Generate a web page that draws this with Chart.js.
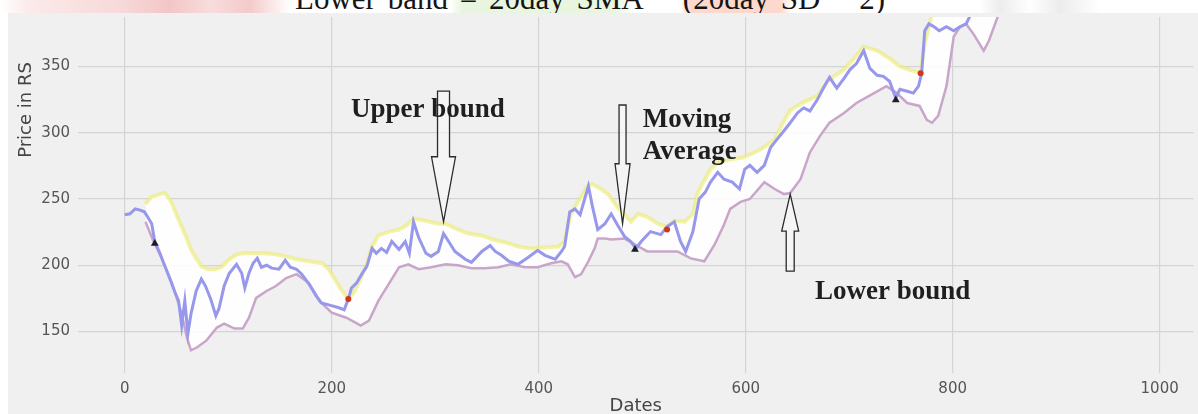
<!DOCTYPE html>
<html>
<head>
<meta charset="utf-8">
<title>Bollinger bands</title>
<script src="https://cdn.jsdelivr.net/npm/chart.js@4.4.0/dist/chart.umd.min.js"></script>
<style>
  html, body { margin: 0; padding: 0; background: #fff; }
  #wrap { position: relative; width: 1198px; height: 414px; overflow: hidden; }
  #bollinger { position: absolute; left: 0; top: 0; }
  /* cropped formula line of the scanned page */
  #eqStrip {
    position: absolute; left: 0; top: 0; width: 1198px; height: 13px; overflow: hidden;
    background: linear-gradient(to right, #fff 0px, #fbeaea 30px, #f7d9d9 120px, #f3c6c6 170px, #f8dcdc 210px,
      #f4caca 250px, #fff 290px, #fff 450px, #e8f5df 462px, #e8f5df 615px, #fff 635px, #fff 680px,
      #fcd9cc 690px, #fcd9cc 780px, #fff 792px, #fff 980px, #ececec 1000px, #fff 1030px, #ececec 1060px, #fff 1100px);
  }
  #eqStrip span {
    position: absolute; left: 295px; top: -17px; font: 31px "Liberation Serif", serif;
    line-height: 31px; word-spacing: 4px; white-space: nowrap; color: #151515;
  }
</style>
</head>
<body>
<div id="wrap">
  <canvas id="bollinger" width="1198" height="414"></canvas>
  <div id="eqStrip"><span>Lower band = 20day SMA − (20day SD * 2)</span></div>
</div>
<script>
// closing price, sampled along the dates axis
const priceDays = [0,5,10,14,19,22,26,29,34,38,43,48,52,55,58,61,64,69,74,78,83,88,91,96,101,108,113,116,120,124,
  128,132,137,142,149,155,160,166,171,178,185,190,197,207,212,216,219,224,229,234,239,243,248,253,258,265,271,275,279,284,
  291,296,303,308,313,319,324,329,335,345,353,358,364,371,380,390,399,406,416,422,425,430,435,440,448,452,457,464,470,476,
  483,489,494,499,508,518,524,531,537,542,549,555,561,566,573,579,587,594,599,604,611,618,624,630,637,643,650,656,662,669,
  676,681,688,695,701,707,714,720,727,733,739,745,749,756,762,767,770,773,777,782,787,794,801,807,813,820,833];
const priceValues = [238.1,238.8,242.5,241.8,240.3,236.6,231.3,217.9,209.0,200.7,191.0,180.6,173.1,154.5,173.1,148.5,163.4,180.6,189.6,184.3,
  174.6,161.9,167.2,184.3,194.0,200.7,194.0,182.8,194.0,201.5,205.2,198.5,200.0,197.8,197.0,203.7,198.5,197.0,193.3,185.8,
  176.9,171.6,170.1,167.9,166.4,174.6,182.8,186.6,193.3,199.3,212.7,209.0,212.7,209.7,217.9,211.9,217.9,209.0,232.8,220.9,
  209.0,206.7,210.4,223.9,217.9,210.4,207.5,204.5,202.2,210.4,214.9,210.4,207.5,203.0,200.7,206.0,211.2,207.5,204.5,210.4,
  214.2,240.3,242.5,238.1,259.7,244.0,226.9,231.3,238.8,230.6,221.6,217.9,212.7,217.9,225.4,223.1,229.1,232.8,217.9,210.4,
  225.4,250.0,255.2,262.7,270.1,264.9,262.7,257.5,272.4,275.4,270.1,275.4,288.8,294.8,301.5,307.5,314.9,318.7,316.4,324.6,
  335.1,341.8,333.6,341.0,347.8,352.2,361.9,348.5,343.3,342.5,338.8,326.1,332.8,331.3,329.9,335.1,344.8,376.9,382.1,379.9,
  376.9,379.9,376.9,379.9,382.1,393.3,404.5];

// upper band = 20day SMA + 2 SD
const upperDays = [20,26,34,39,45,50,55,60,64,69,74,80,87,93,101,108,115,123,135,146,156,166,178,191,197,204,210,216,221,228,
  234,239,245,255,265,272,279,291,303,310,320,332,345,356,368,380,393,404,419,425,430,435,442,448,452,459,467,476,483,489,
  496,505,515,524,531,541,549,553,560,566,573,585,597,604,614,628,635,643,656,669,681,695,703,714,727,739,749,760,769,773,
  780,789,800,860];
const upperValues = [246.3,251.5,253.7,254.5,247.8,238.1,229.1,220.1,211.9,205.2,199.3,197.0,197.0,198.5,204.5,208.2,209.0,209.0,209.0,208.2,
  206.7,204.5,203.0,201.5,197.0,188.1,180.6,174.6,179.1,189.6,201.5,214.2,222.4,225.4,226.9,229.9,235.1,233.6,231.3,231.3,
  227.6,223.9,222.4,219.4,217.2,214.2,212.7,213.4,214.2,217.9,236.6,244.0,253.0,260.4,261.2,258.2,253.7,244.0,238.1,232.8,
  238.8,236.6,231.3,229.1,233.6,232.8,238.8,253.7,264.2,272.4,277.6,279.9,281.3,283.6,287.3,294.8,306.0,317.2,323.1,327.6,
  340.3,347.8,354.5,364.9,361.9,356.0,350.0,347.0,345.5,367.2,389.6,412.0,440.0,470.0];

// lower band = 20day SMA - 2 SD
const lowerDays = [20,27,37,46,55,60,64,70,79,89,96,106,114,120,127,137,146,156,166,178,188,200,214,223,228,236,245,255,265,274,
  284,296,310,322,335,348,361,373,387,399,412,422,428,435,441,448,454,457,464,470,483,496,505,515,534,547,560,570,579,585,
  595,604,618,628,637,643,653,662,672,681,695,707,724,736,746,756,768,775,780,786,794,801,807,813,820,830,835,842,850];
const lowerValues = [232.8,219.4,203.0,185.8,163.4,145.5,135.8,138.1,143.3,153.0,156.0,152.2,152.2,160.4,175.4,180.6,184.3,190.3,193.3,186.6,
  173.1,164.2,160.4,156.7,154.5,158.2,173.1,185.8,198.5,200.7,197.0,198.5,200.7,200.0,197.8,197.8,198.5,200.7,198.5,198.5,
  201.5,203.0,200.7,191.0,193.3,203.0,212.7,220.1,220.1,219.4,220.1,214.2,210.4,210.4,210.4,205.2,203.0,215.7,230.6,242.5,
  247.8,250.0,262.7,257.5,253.7,254.5,264.9,285.1,297.8,307.5,314.9,322.4,329.9,335.1,329.9,322.4,320.2,309.7,307.5,312.7,
  335.1,372.4,379.9,382.1,374.6,361.9,369.4,384.3,400.7];

// crossing signals
const buyDays = [29, 493, 745];
const buyValues = [216.4, 211.9, 324.6];
const sellDays = [216, 524, 769];
const sellValues = [174.6, 226.9, 344.8];

const xTicks = [0, 200, 400, 600, 800, 1000];
const yTicks = [150, 200, 250, 300, 350];

// callouts pasted on the figure (anchored in data units)
const arrowDays = [308, 481, 643];
const arrowTipValues = [232.8, 231.3, 253.7];
const arrowTailValues = [331.3, 320.9, 195.5];
const noteTexts = ['Upper bound', 'Moving', 'Average', 'Lower bound'];
const noteDays = [218.5, 500.5, 500.5, 667];
const noteValues = [311.9, 304.5, 279.9, 174.6];

const toPoints = (xs, ys) => xs.map((x, i) => ({ x: x, y: ys[i] }));

const backdrop = {
    id: 'backdrop',
    beforeDraw(chart) {
        const ctx = chart.ctx;
        ctx.save();
        ctx.fillStyle = '#ffffff';
        ctx.fillRect(0, 0, chart.width, chart.height);
        ctx.fillStyle = '#f0f0f0';
        ctx.fillRect(8, 13, chart.width - 8, chart.height - 13);
        ctx.restore();
    }
};

// hollow block arrows, same look as in the paper
const arrowSizes = [[6, 12, 65], [3.5, 7.5, 60], [4, 8.5, 37]]; // shaft half width, head half width, head length (px)

function drawArrow(ctx, x, yTip, yTail, size) {
    const [sh, hh, hl] = size;
    const dir = yTail > yTip ? 1 : -1;
    const yBase = yTip + dir * hl;
    ctx.beginPath();
    ctx.moveTo(x, yTip);
    ctx.lineTo(x + hh, yBase);
    ctx.lineTo(x + sh, yBase);
    ctx.lineTo(x + sh, yTail);
    ctx.lineTo(x - sh, yTail);
    ctx.lineTo(x - sh, yBase);
    ctx.lineTo(x - hh, yBase);
    ctx.closePath();
    ctx.fill();
    ctx.stroke();
}

const callouts = {
    id: 'callouts',
    afterDraw(chart) {
        const ctx = chart.ctx;
        const xs = chart.scales.x, ys = chart.scales.y;
        ctx.save();
        ctx.fillStyle = 'rgba(250,250,250,0.55)';
        ctx.strokeStyle = '#2b2b2b';
        ctx.lineWidth = 1.3;
        arrowDays.forEach((d, i) => {
            drawArrow(ctx, xs.getPixelForValue(d), ys.getPixelForValue(arrowTipValues[i]),
                ys.getPixelForValue(arrowTailValues[i]), arrowSizes[i]);
        });
        ctx.fillStyle = '#1f1f1f';
        ctx.font = 'bold 27px "Liberation Serif", serif';
        ctx.textBaseline = 'alphabetic';
        ctx.textAlign = 'left';
        noteTexts.forEach((t, i) => {
            ctx.fillText(t, xs.getPixelForValue(noteDays[i]), ys.getPixelForValue(noteValues[i]));
        });

        // axis titles (figure is cropped, so they sit off-centre)
        ctx.fillStyle = '#444';
        ctx.font = '18px "DejaVu Sans"';
        ctx.textAlign = 'center';
        ctx.textBaseline = 'middle';
        ctx.fillText('Dates', (chart.chartArea.left + chart.chartArea.right) / 2, 406);
        ctx.translate(26, 110);
        ctx.rotate(-Math.PI / 2);
        ctx.fillText('Price in RS', 0, 0);
        ctx.restore();
    }
};

const tickFont = { family: 'DejaVu Sans', size: 15 };

new Chart(document.getElementById('bollinger'), {
    type: 'line',
    data: {
        datasets: [
            {
                label: 'Sell',
                data: toPoints(sellDays, sellValues),
                showLine: false,
                pointStyle: 'circle',
                pointRadius: 3,
                pointBorderWidth: 0,
                pointBackgroundColor: '#d0381c'
            },
            {
                label: 'Buy',
                data: toPoints(buyDays, buyValues),
                showLine: false,
                pointStyle: 'triangle',
                pointRadius: 4.5,
                pointBorderWidth: 0,
                pointBackgroundColor: '#1d1d28'
            },
            {
                label: 'Close',
                data: toPoints(priceDays, priceValues),
                borderColor: '#9797ec',
                borderWidth: 3,
                pointRadius: 0,
                fill: false
            },
            {
                label: 'Upper band',
                data: toPoints(upperDays, upperValues),
                borderColor: 'rgba(236,236,120,0.65)',
                borderWidth: 4,
                pointRadius: 0,
                fill: false
            },
            {
                label: 'Lower band',
                data: toPoints(lowerDays, lowerValues),
                borderColor: '#c9a6c9',
                borderWidth: 2.5,
                pointRadius: 0,
                fill: '-1',
                backgroundColor: 'rgba(255,255,255,0.88)'
            }
        ]
    },
    options: {
        responsive: false,
        animation: false,
        events: [],
        layout: { padding: { top: 13, left: 0, right: 0, bottom: 0 } },
        plugins: {
            legend: { display: false },
            tooltip: { enabled: false }
        },
        elements: { line: { tension: 0 } },
        scales: {
            x: {
                type: 'linear',
                min: -45.2,
                max: 1032.7,
                afterBuildTicks: (axis) => { axis.ticks = xTicks.map(v => ({ value: v })); },
                afterFit: (axis) => { axis.height = 41; },
                grid: { color: '#d4d4d4', lineWidth: 1.2, drawTicks: false },
                border: { display: false },
                ticks: { padding: 7, color: '#555', font: tickFont, maxRotation: 0, callback: v => String(v) }
            },
            y: {
                min: 118.7,
                max: 387.3,
                afterBuildTicks: (axis) => { axis.ticks = yTicks.map(v => ({ value: v })); },
                afterFit: (axis) => { axis.width = 78; },
                grid: { color: '#d4d4d4', lineWidth: 1.2, drawTicks: false },
                border: { display: false },
                ticks: { padding: 8, color: '#555', font: tickFont, callback: v => String(v) }
            }
        }
    },
    plugins: [backdrop, callouts]
});
</script>
</body>
</html>
